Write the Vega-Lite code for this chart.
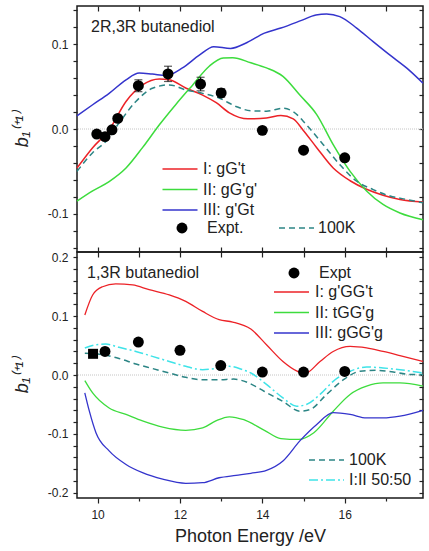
{
  "$schema": "https://vega.github.io/schema/vega-lite/v6.json",
  "padding": {"left": 12, "top": 4, "right": 2, "bottom": 0},
  "bounds": "flush",
  "spacing": 0,
  "config": {
    "font": "Liberation Sans",
    "view": {"stroke": "#1a1a1a", "strokeWidth": 1.5},
    "axis": {"labelFont": "Liberation Sans", "titleFont": "Liberation Sans", "labelFontSize": 12, "labelColor": "#222", "tickColor": "#222", "titleColor": "#222", "grid": false, "domain": false, "tickWidth": 1.2},
    "legend": {"labelFont": "Liberation Sans", "labelFontSize": 16, "labelColor": "#222", "labelLimit": 300}
  },
  "datasets": {
    "top_lines": [
      {"E": 9.5, "b": -0.046, "s": "I: gG't"}, {"E": 9.88, "b": -0.022, "s": "I: gG't"}, {"E": 10.28, "b": -0.001, "s": "I: gG't"}, {"E": 10.69, "b": 0.0325, "s": "I: gG't"}, {"E": 11.09, "b": 0.052, "s": "I: gG't"}, {"E": 11.5, "b": 0.059, "s": "I: gG't"}, {"E": 11.74, "b": 0.058, "s": "I: gG't"}, {"E": 12.15, "b": 0.048, "s": "I: gG't"}, {"E": 12.55, "b": 0.04, "s": "I: gG't"}, {"E": 12.88, "b": 0.031, "s": "I: gG't"}, {"E": 13.2, "b": 0.019, "s": "I: gG't"}, {"E": 13.65, "b": 0.012, "s": "I: gG't"}, {"E": 14.1, "b": 0.013, "s": "I: gG't"}, {"E": 14.45, "b": 0.016, "s": "I: gG't"}, {"E": 14.75, "b": 0.012, "s": "I: gG't"}, {"E": 15.0, "b": -0.002, "s": "I: gG't"}, {"E": 15.32, "b": -0.022, "s": "I: gG't"}, {"E": 15.72, "b": -0.046, "s": "I: gG't"}, {"E": 16.13, "b": -0.061, "s": "I: gG't"}, {"E": 16.53, "b": -0.071, "s": "I: gG't"}, {"E": 16.93, "b": -0.078, "s": "I: gG't"}, {"E": 17.34, "b": -0.083, "s": "I: gG't"}, {"E": 17.9, "b": -0.086, "s": "I: gG't"},
      {"E": 9.5, "b": -0.085, "s": "II: gG'g'"}, {"E": 9.88, "b": -0.073, "s": "II: gG'g'"}, {"E": 10.28, "b": -0.062, "s": "II: gG'g'"}, {"E": 10.69, "b": -0.046, "s": "II: gG'g'"}, {"E": 11.09, "b": -0.022, "s": "II: gG'g'"}, {"E": 11.5, "b": 0.005, "s": "II: gG'g'"}, {"E": 11.9, "b": 0.029, "s": "II: gG'g'"}, {"E": 12.31, "b": 0.052, "s": "II: gG'g'"}, {"E": 12.71, "b": 0.074, "s": "II: gG'g'"}, {"E": 13.05, "b": 0.0838, "s": "II: gG'g'"}, {"E": 13.28, "b": 0.084, "s": "II: gG'g'"}, {"E": 13.72, "b": 0.078, "s": "II: gG'g'"}, {"E": 14.1, "b": 0.072, "s": "II: gG'g'"}, {"E": 14.5, "b": 0.062, "s": "II: gG'g'"}, {"E": 14.91, "b": 0.04, "s": "II: gG'g'"}, {"E": 15.32, "b": 0.017, "s": "II: gG'g'"}, {"E": 15.72, "b": -0.0185, "s": "II: gG'g'"}, {"E": 16.13, "b": -0.05, "s": "II: gG'g'"}, {"E": 16.53, "b": -0.073, "s": "II: gG'g'"}, {"E": 16.93, "b": -0.089, "s": "II: gG'g'"}, {"E": 17.34, "b": -0.099, "s": "II: gG'g'"}, {"E": 17.9, "b": -0.107, "s": "II: gG'g'"},
      {"E": 9.5, "b": 0.0155, "s": "III: g'Gt"}, {"E": 9.88, "b": 0.0286, "s": "III: g'Gt"}, {"E": 10.28, "b": 0.042, "s": "III: g'Gt"}, {"E": 10.69, "b": 0.058, "s": "III: g'Gt"}, {"E": 11.01, "b": 0.066, "s": "III: g'Gt"}, {"E": 11.33, "b": 0.0647, "s": "III: g'Gt"}, {"E": 11.66, "b": 0.063, "s": "III: g'Gt"}, {"E": 12.06, "b": 0.072, "s": "III: g'Gt"}, {"E": 12.47, "b": 0.087, "s": "III: g'Gt"}, {"E": 12.82, "b": 0.097, "s": "III: g'Gt"}, {"E": 13.23, "b": 0.095, "s": "III: g'Gt"}, {"E": 13.63, "b": 0.102, "s": "III: g'Gt"}, {"E": 14.05, "b": 0.113, "s": "III: g'Gt"}, {"E": 14.45, "b": 0.119, "s": "III: g'Gt"}, {"E": 14.95, "b": 0.128, "s": "III: g'Gt"}, {"E": 15.3, "b": 0.1345, "s": "III: g'Gt"}, {"E": 15.56, "b": 0.1356, "s": "III: g'Gt"}, {"E": 15.88, "b": 0.1325, "s": "III: g'Gt"}, {"E": 16.29, "b": 0.119, "s": "III: g'Gt"}, {"E": 16.69, "b": 0.103, "s": "III: g'Gt"}, {"E": 17.1, "b": 0.087, "s": "III: g'Gt"}, {"E": 17.5, "b": 0.072, "s": "III: g'Gt"}, {"E": 17.9, "b": 0.054, "s": "III: g'Gt"}
    ],
    "top_100k": [
      {"E": 9.5, "b": -0.05, "s": "100K"}, {"E": 9.88, "b": -0.028, "s": "100K"}, {"E": 10.2, "b": -0.0146, "s": "100K"}, {"E": 10.52, "b": 0.007, "s": "100K"}, {"E": 10.93, "b": 0.0325, "s": "100K"}, {"E": 11.33, "b": 0.048, "s": "100K"}, {"E": 11.74, "b": 0.052, "s": "100K"}, {"E": 12.15, "b": 0.046, "s": "100K"}, {"E": 12.55, "b": 0.042, "s": "100K"}, {"E": 12.95, "b": 0.0365, "s": "100K"}, {"E": 13.36, "b": 0.0266, "s": "100K"}, {"E": 13.72, "b": 0.0215, "s": "100K"}, {"E": 14.1, "b": 0.021, "s": "100K"}, {"E": 14.5, "b": 0.0245, "s": "100K"}, {"E": 14.75, "b": 0.0205, "s": "100K"}, {"E": 15.07, "b": 0.005, "s": "100K"}, {"E": 15.48, "b": -0.0185, "s": "100K"}, {"E": 15.88, "b": -0.042, "s": "100K"}, {"E": 16.29, "b": -0.0616, "s": "100K"}, {"E": 16.69, "b": -0.0714, "s": "100K"}, {"E": 17.1, "b": -0.079, "s": "100K"}, {"E": 17.5, "b": -0.083, "s": "100K"}, {"E": 17.9, "b": -0.087, "s": "100K"}
    ],
    "top_expt": [
      {"E": 9.98, "b": -0.006, "s": "Expt."}, {"E": 10.18, "b": -0.009, "s": "Expt."}, {"E": 10.35, "b": -0.001, "s": "Expt."}, {"E": 10.49, "b": 0.0125, "s": "Expt."}, {"E": 10.99, "b": 0.051, "s": "Expt."}, {"E": 11.71, "b": 0.065, "s": "Expt."}, {"E": 12.5, "b": 0.053, "s": "Expt."}, {"E": 13.0, "b": 0.0425, "s": "Expt."}, {"E": 14.0, "b": -0.0016, "s": "Expt."}, {"E": 15.0, "b": -0.025, "s": "Expt."}, {"E": 16.0, "b": -0.034, "s": "Expt."}
    ],
    "top_err": [
      {"E": 10.99, "lo": 0.044, "hi": 0.058}, {"E": 11.71, "lo": 0.056, "hi": 0.074}, {"E": 12.5, "lo": 0.045, "hi": 0.061}, {"E": 13.0, "lo": 0.0375, "hi": 0.0475}
    ],
    "bot_lines": [
      {"E": 9.69, "b": 0.102, "s": "I: g'GG't"}, {"E": 9.88, "b": 0.136, "s": "I: g'GG't"}, {"E": 10.12, "b": 0.15, "s": "I: g'GG't"}, {"E": 10.44, "b": 0.155, "s": "I: g'GG't"}, {"E": 10.85, "b": 0.153, "s": "I: g'GG't"}, {"E": 11.25, "b": 0.145, "s": "I: g'GG't"}, {"E": 11.74, "b": 0.136, "s": "I: g'GG't"}, {"E": 12.14, "b": 0.125, "s": "I: g'GG't"}, {"E": 12.55, "b": 0.108, "s": "I: g'GG't"}, {"E": 12.95, "b": 0.094, "s": "I: g'GG't"}, {"E": 13.28, "b": 0.09, "s": "I: g'GG't"}, {"E": 13.72, "b": 0.078, "s": "I: g'GG't"}, {"E": 14.1, "b": 0.0515, "s": "I: g'GG't"}, {"E": 14.5, "b": 0.023, "s": "I: g'GG't"}, {"E": 14.83, "b": 0.007, "s": "I: g'GG't"}, {"E": 15.02, "b": 0.002, "s": "I: g'GG't"}, {"E": 15.4, "b": 0.023, "s": "I: g'GG't"}, {"E": 15.72, "b": 0.04, "s": "I: g'GG't"}, {"E": 16.13, "b": 0.0486, "s": "I: g'GG't"}, {"E": 16.53, "b": 0.046, "s": "I: g'GG't"}, {"E": 16.93, "b": 0.04, "s": "I: g'GG't"}, {"E": 17.34, "b": 0.033, "s": "I: g'GG't"}, {"E": 17.9, "b": 0.023, "s": "I: g'GG't"},
      {"E": 9.69, "b": -0.0095, "s": "II: tGG'g"}, {"E": 9.88, "b": -0.0305, "s": "II: tGG'g"}, {"E": 10.28, "b": -0.056, "s": "II: tGG'g"}, {"E": 10.69, "b": -0.067, "s": "II: tGG'g"}, {"E": 11.09, "b": -0.078, "s": "II: tGG'g"}, {"E": 11.58, "b": -0.0886, "s": "II: tGG'g"}, {"E": 12.14, "b": -0.094, "s": "II: tGG'g"}, {"E": 12.55, "b": -0.09, "s": "II: tGG'g"}, {"E": 12.87, "b": -0.078, "s": "II: tGG'g"}, {"E": 13.2, "b": -0.071, "s": "II: tGG'g"}, {"E": 13.55, "b": -0.076, "s": "II: tGG'g"}, {"E": 14.05, "b": -0.094, "s": "II: tGG'g"}, {"E": 14.45, "b": -0.108, "s": "II: tGG'g"}, {"E": 14.88, "b": -0.1095, "s": "II: tGG'g"}, {"E": 15.25, "b": -0.098, "s": "II: tGG'g"}, {"E": 15.72, "b": -0.0615, "s": "II: tGG'g"}, {"E": 16.13, "b": -0.033, "s": "II: tGG'g"}, {"E": 16.53, "b": -0.019, "s": "II: tGG'g"}, {"E": 16.93, "b": -0.0135, "s": "II: tGG'g"}, {"E": 17.34, "b": -0.0135, "s": "II: tGG'g"}, {"E": 17.9, "b": -0.019, "s": "II: tGG'g"},
      {"E": 9.69, "b": -0.0305, "s": "III: gGG'g"}, {"E": 9.8, "b": -0.0615, "s": "III: gGG'g"}, {"E": 9.96, "b": -0.098, "s": "III: gGG'g"}, {"E": 10.28, "b": -0.129, "s": "III: gGG'g"}, {"E": 10.69, "b": -0.152, "s": "III: gGG'g"}, {"E": 11.09, "b": -0.166, "s": "III: gGG'g"}, {"E": 11.58, "b": -0.177, "s": "III: gGG'g"}, {"E": 12.14, "b": -0.184, "s": "III: gGG'g"}, {"E": 12.55, "b": -0.183, "s": "III: gGG'g"}, {"E": 12.95, "b": -0.1746, "s": "III: gGG'g"}, {"E": 13.36, "b": -0.1705, "s": "III: gGG'g"}, {"E": 13.72, "b": -0.167, "s": "III: gGG'g"}, {"E": 14.1, "b": -0.162, "s": "III: gGG'g"}, {"E": 14.5, "b": -0.146, "s": "III: gGG'g"}, {"E": 14.91, "b": -0.112, "s": "III: gGG'g"}, {"E": 15.32, "b": -0.084, "s": "III: gGG'g"}, {"E": 15.72, "b": -0.064, "s": "III: gGG'g"}, {"E": 16.13, "b": -0.067, "s": "III: gGG'g"}, {"E": 16.53, "b": -0.073, "s": "III: gGG'g"}, {"E": 16.93, "b": -0.073, "s": "III: gGG'g"}, {"E": 17.34, "b": -0.07, "s": "III: gGG'g"}, {"E": 17.9, "b": -0.06, "s": "III: gGG'g"}
    ],
    "bot_dash": [
      {"E": 9.69, "b": 0.037, "s": "100K"}, {"E": 10.12, "b": 0.0345, "s": "100K"}, {"E": 10.52, "b": 0.028, "s": "100K"}, {"E": 10.93, "b": 0.0186, "s": "100K"}, {"E": 11.33, "b": 0.011, "s": "100K"}, {"E": 11.74, "b": 0.0034, "s": "100K"}, {"E": 12.14, "b": -0.004, "s": "100K"}, {"E": 12.55, "b": -0.008, "s": "100K"}, {"E": 12.95, "b": -0.008, "s": "100K"}, {"E": 13.3, "b": -0.007, "s": "100K"}, {"E": 13.65, "b": -0.013, "s": "100K"}, {"E": 14.05, "b": -0.028, "s": "100K"}, {"E": 14.5, "b": -0.045, "s": "100K"}, {"E": 14.91, "b": -0.0615, "s": "100K"}, {"E": 15.16, "b": -0.0586, "s": "100K"}, {"E": 15.56, "b": -0.033, "s": "100K"}, {"E": 15.97, "b": -0.008, "s": "100K"}, {"E": 16.37, "b": 0.0063, "s": "100K"}, {"E": 16.77, "b": 0.008, "s": "100K"}, {"E": 17.18, "b": 0.005, "s": "100K"}, {"E": 17.58, "b": 0.001, "s": "100K"}, {"E": 17.9, "b": 0.001, "s": "100K"},
      {"E": 9.69, "b": 0.0458, "s": "I:II 50:50"}, {"E": 9.96, "b": 0.0515, "s": "I:II 50:50"}, {"E": 10.2, "b": 0.0525, "s": "I:II 50:50"}, {"E": 10.52, "b": 0.047, "s": "I:II 50:50"}, {"E": 10.93, "b": 0.04, "s": "I:II 50:50"}, {"E": 11.33, "b": 0.0317, "s": "I:II 50:50"}, {"E": 11.74, "b": 0.023, "s": "I:II 50:50"}, {"E": 12.14, "b": 0.0147, "s": "I:II 50:50"}, {"E": 12.55, "b": 0.009, "s": "I:II 50:50"}, {"E": 12.87, "b": 0.011, "s": "I:II 50:50"}, {"E": 13.2, "b": 0.0147, "s": "I:II 50:50"}, {"E": 13.52, "b": 0.009, "s": "I:II 50:50"}, {"E": 13.72, "b": 0.0034, "s": "I:II 50:50"}, {"E": 14.1, "b": -0.016, "s": "I:II 50:50"}, {"E": 14.5, "b": -0.039, "s": "I:II 50:50"}, {"E": 14.83, "b": -0.053, "s": "I:II 50:50"}, {"E": 15.07, "b": -0.05, "s": "I:II 50:50"}, {"E": 15.4, "b": -0.033, "s": "I:II 50:50"}, {"E": 15.72, "b": -0.0107, "s": "I:II 50:50"}, {"E": 16.13, "b": 0.0063, "s": "I:II 50:50"}, {"E": 16.53, "b": 0.0136, "s": "I:II 50:50"}, {"E": 16.93, "b": 0.012, "s": "I:II 50:50"}, {"E": 17.34, "b": 0.009, "s": "I:II 50:50"}, {"E": 17.9, "b": 0.0034, "s": "I:II 50:50"}
    ],
    "bot_expt": [
      {"E": 10.18, "b": 0.04, "s": "Expt"}, {"E": 10.99, "b": 0.056, "s": "Expt"}, {"E": 12.0, "b": 0.042, "s": "Expt"}, {"E": 12.99, "b": 0.016, "s": "Expt"}, {"E": 14.0, "b": 0.005, "s": "Expt"}, {"E": 15.0, "b": 0.005, "s": "Expt"}, {"E": 16.0, "b": 0.006, "s": "Expt"}
    ],
    "bot_sq": [
      {"E": 9.89, "b": 0.036}
    ]
  },
  "resolve": {
    "scale": {"y": "independent", "color": "independent", "stroke": "independent", "strokeDash": "independent", "shape": "independent"},
    "legend": {"color": "independent", "stroke": "independent", "strokeDash": "independent", "shape": "independent"}
  },
  "vconcat": [
    {
      "width": 346,
      "height": 246,
      "title": {"text": "2R,3R butanediol", "anchor": "start", "frame": "group", "orient": "top", "offset": -26, "dx": 14, "dy": 17, "fontSize": 16, "fontWeight": "normal", "color": "#222", "baseline": "alphabetic", "font": "Liberation Sans"},
      "resolve": {"axis": {"x": "independent", "y": "independent"}},
      "layer": [
        {
          "data": {"values": [{"z": 0}]},
          "mark": {"type": "rule", "color": "#c4c4c4", "strokeDash": [1, 1], "strokeWidth": 1},
          "encoding": {"y": {"field": "z", "type": "quantitative", "scale": {"domain": [-0.145, 0.145], "nice": false, "zero": false}, "axis": null}}
        },
        {
          "data": {"name": "top_lines"},
          "mark": {"type": "line", "interpolate": "monotone", "strokeWidth": 1.5},
          "encoding": {
            "x": {"field": "E", "type": "quantitative", "scale": {"domain": [9.5, 17.9], "nice": false, "zero": false},
                  "axis": {"orient": "bottom", "values": [10, 11, 12, 13, 14, 15, 16, 17], "labels": false, "tickSize": -5, "title": null}},
            "y": {"field": "b", "type": "quantitative", "scale": {"domain": [-0.145, 0.145], "nice": false, "zero": false},
                  "axis": {"orient": "left", "values": [-0.14, -0.12, -0.1, -0.08, -0.06, -0.04, -0.02, 0, 0.02, 0.04, 0.06, 0.08, 0.1, 0.12, 0.14],
                           "labelExpr": "abs(datum.value*10-round(datum.value*10))<0.01 ? replace(format(datum.value,'.1f'),'\u2212','-') : ''",
                           "tickSize": 4, "labelPadding": 5, "title": "b\u2081\u207d\u207a\u00b9\u207e", "titleFontSize": 18, "titleFontWeight": "normal", "titleFontStyle": "italic", "titlePadding": 16}},
            "color": {"field": "s", "type": "nominal", "scale": {"domain": ["I: gG't", "II: gG'g'", "III: g'Gt"], "range": ["#ec2227", "#3ddc3d", "#3434cc"]},
                      "legend": {"title": null, "orient": "none", "legendX": 95, "legendY": 155, "symbolType": "M-2.5,0H2.5", "symbolSize": 196, "symbolStrokeWidth": 1.5, "labelOffset": 15, "rowPadding": 4.5}}
          }
        },
        {
          "data": {"name": "top_100k"},
          "mark": {"type": "line", "interpolate": "monotone", "strokeWidth": 1.5},
          "encoding": {
            "x": {"field": "E", "type": "quantitative", "axis": {"orient": "top", "values": [10, 11, 12, 13, 14, 15, 16, 17], "labels": false, "tickSize": -5, "title": null}},
            "y": {"field": "b", "type": "quantitative", "axis": {"orient": "right", "values": [-0.14, -0.12, -0.1, -0.08, -0.06, -0.04, -0.02, 0, 0.02, 0.04, 0.06, 0.08, 0.1, 0.12, 0.14], "labels": false, "tickSize": -4, "title": null}},
            "stroke": {"field": "s", "type": "nominal", "scale": {"domain": ["100K"], "range": ["#2c8585"]},
                       "legend": {"title": null, "orient": "none", "legendX": 211.5, "legendY": 214, "symbolType": "M-2.5,0H2.5", "symbolSize": 196, "symbolStrokeWidth": 1.5, "labelOffset": 13.5}},
            "strokeDash": {"field": "s", "type": "nominal", "scale": {"domain": ["100K"], "range": [[6, 4]]},
                       "legend": {"title": null, "orient": "none", "legendX": 211.5, "legendY": 214, "symbolType": "M-2.5,0H2.5", "symbolSize": 196, "symbolStrokeWidth": 1.5, "labelOffset": 13.5}}
          }
        },
        {
          "data": {"name": "top_err"},
          "mark": {"type": "rule", "color": "#111", "strokeWidth": 1.2},
          "encoding": {
            "x": {"field": "E", "type": "quantitative", "axis": null},
            "y": {"field": "lo", "type": "quantitative", "axis": null},
            "y2": {"field": "hi"}
          }
        },
        {
          "data": {"name": "top_err"},
          "mark": {"type": "tick", "orient": "horizontal", "color": "#111", "size": 8, "thickness": 1.2},
          "encoding": {
            "x": {"field": "E", "type": "quantitative", "axis": null},
            "y": {"field": "hi", "type": "quantitative", "axis": null}
          }
        },
        {
          "data": {"name": "top_err"},
          "mark": {"type": "tick", "orient": "horizontal", "color": "#111", "size": 8, "thickness": 1.2},
          "encoding": {
            "x": {"field": "E", "type": "quantitative", "axis": null},
            "y": {"field": "lo", "type": "quantitative", "axis": null}
          }
        },
        {
          "data": {"name": "top_expt"},
          "mark": {"type": "point", "filled": true, "size": 120, "color": "#000", "opacity": 1},
          "encoding": {
            "x": {"field": "E", "type": "quantitative", "axis": null},
            "y": {"field": "b", "type": "quantitative", "axis": null},
            "shape": {"field": "s", "type": "nominal", "scale": {"domain": ["Expt."], "range": ["circle"]},
                      "legend": {"title": null, "orient": "none", "legendX": 97, "legendY": 214, "symbolSize": 120, "symbolFillColor": "#000", "symbolStrokeColor": "#000", "symbolOpacity": 1, "labelOffset": 17}}
          }
        }
      ]
    },
    {
      "width": 346,
      "height": 246,
      "title": {"text": "1,3R butanediol", "anchor": "start", "frame": "group", "orient": "top", "offset": -24, "dx": 10, "dy": 19, "fontSize": 16, "fontWeight": "normal", "color": "#222", "baseline": "alphabetic", "font": "Liberation Sans"},
      "resolve": {"axis": {"x": "independent", "y": "independent"}},
      "layer": [
        {
          "data": {"values": [{"z": 0}]},
          "mark": {"type": "rule", "color": "#c4c4c4", "strokeDash": [1, 1], "strokeWidth": 1},
          "encoding": {"y": {"field": "z", "type": "quantitative", "scale": {"domain": [-0.209, 0.209], "nice": false, "zero": false}, "axis": null}}
        },
        {
          "data": {"name": "bot_lines"},
          "mark": {"type": "line", "interpolate": "monotone", "strokeWidth": 1.3},
          "encoding": {
            "x": {"field": "E", "type": "quantitative", "scale": {"domain": [9.5, 17.9], "nice": false, "zero": false},
                  "axis": {"orient": "bottom", "values": [10, 11, 12, 13, 14, 15, 16, 17],
                           "labelExpr": "datum.value % 2 == 0 ? datum.label : ''",
                           "tickSize": {"condition": {"test": "datum.value % 2 == 0", "value": 5}, "value": 3},
                           "labelPadding": 6, "title": "Photon Energy /eV", "titleFontSize": 18, "titleFontWeight": "normal", "titlePadding": 7}},
            "y": {"field": "b", "type": "quantitative", "scale": {"domain": [-0.209, 0.209], "nice": false, "zero": false},
                  "axis": {"orient": "left", "values": [-0.2, -0.18, -0.16, -0.14, -0.12, -0.1, -0.08, -0.06, -0.04, -0.02, 0, 0.02, 0.04, 0.06, 0.08, 0.1, 0.12, 0.14, 0.16, 0.18, 0.2],
                           "labelExpr": "abs(datum.value*10-round(datum.value*10))<0.01 ? replace(format(datum.value,'.1f'),'\u2212','-') : ''",
                           "tickSize": 4, "labelPadding": 5, "title": "b\u2081\u207d\u207a\u00b9\u207e", "titleFontSize": 18, "titleFontWeight": "normal", "titleFontStyle": "italic", "titlePadding": 16}},
            "color": {"field": "s", "type": "nominal", "scale": {"domain": ["I: g'GG't", "II: tGG'g", "III: gGG'g"], "range": ["#ec2227", "#3ddc3d", "#3434cc"]},
                      "legend": {"title": null, "orient": "none", "legendX": 206.5, "legendY": 32, "symbolType": "M-2.5,0H2.5", "symbolSize": 196, "symbolStrokeWidth": 1.5, "labelOffset": 15.5, "rowPadding": 4.5}}
          }
        },
        {
          "data": {"name": "bot_dash"},
          "mark": {"type": "line", "interpolate": "monotone", "strokeWidth": 1.5},
          "encoding": {
            "x": {"field": "E", "type": "quantitative", "axis": {"orient": "top", "values": [10, 11, 12, 13, 14, 15, 16, 17], "labels": false, "tickSize": -5, "title": null}},
            "y": {"field": "b", "type": "quantitative", "axis": {"orient": "right", "values": [-0.2, -0.18, -0.16, -0.14, -0.12, -0.1, -0.08, -0.06, -0.04, -0.02, 0, 0.02, 0.04, 0.06, 0.08, 0.1, 0.12, 0.14, 0.16, 0.18, 0.2], "labels": false, "tickSize": -4, "title": null}},
            "stroke": {"field": "s", "type": "nominal", "scale": {"domain": ["100K", "I:II 50:50"], "range": ["#2c8585", "#3fe3e8"]},
                       "legend": {"title": null, "orient": "none", "legendX": 241.5, "legendY": 200, "symbolType": "M-2.5,0H2.5", "symbolSize": 196, "symbolStrokeWidth": 1.5, "labelOffset": 14.5, "rowPadding": 4}},
            "strokeDash": {"field": "s", "type": "nominal", "scale": {"domain": ["100K", "I:II 50:50"], "range": [[6, 4], [9, 3, 2, 3]]},
                       "legend": {"title": null, "orient": "none", "legendX": 241.5, "legendY": 200, "symbolType": "M-2.5,0H2.5", "symbolSize": 196, "symbolStrokeWidth": 1.5, "labelOffset": 14.5, "rowPadding": 4}}
          }
        },
        {
          "data": {"name": "bot_sq"},
          "mark": {"type": "point", "filled": true, "shape": "square", "size": 100, "color": "#000", "opacity": 1},
          "encoding": {
            "x": {"field": "E", "type": "quantitative", "axis": null},
            "y": {"field": "b", "type": "quantitative", "axis": null}
          }
        },
        {
          "data": {"name": "bot_expt"},
          "mark": {"type": "point", "filled": true, "size": 120, "color": "#000", "opacity": 1},
          "encoding": {
            "x": {"field": "E", "type": "quantitative", "axis": null},
            "y": {"field": "b", "type": "quantitative", "axis": null},
            "shape": {"field": "s", "type": "nominal", "scale": {"domain": ["Expt"], "range": ["circle"]},
                      "legend": {"title": null, "orient": "none", "legendX": 209, "legendY": 13, "symbolSize": 120, "symbolFillColor": "#000", "symbolStrokeColor": "#000", "symbolOpacity": 1, "labelOffset": 17}}
          }
        }
      ]
    }
  ]
}
